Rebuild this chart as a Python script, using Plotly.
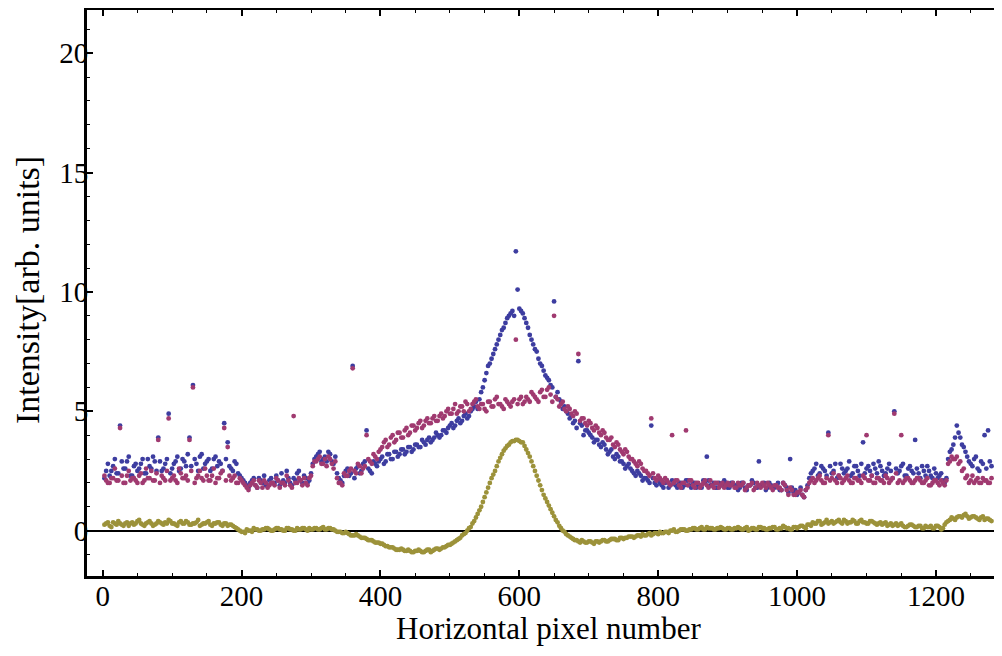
import plotly.graph_objects as go

# sample positions (horizontal pixel number)
x_pixel = list(range(5, 1281, 5))
x_pixel_half = [k * 5 + 2.5 for k in range(256)]

blue_vals = [
    2.5, 2.3, 2.7, 2.4, 4.4, 2.6, 2.9, 2.3, 2.7, 2.5, 2.8, 2.4, 3.0, 2.6, 2.9, 3.9, 2.5, 2.8, 4.9, 2.6,
    2.9, 2.5, 3.0, 2.7, 3.9, 6.1, 2.8, 3.1, 2.6, 2.9, 2.5, 3.0, 2.7, 2.8, 4.5, 3.7, 2.6, 2.9, 2.4, 2.2,
    2.0, 1.8, 2.1, 1.9, 2.2, 2.0, 1.9, 2.1, 2.0, 2.3, 1.9, 2.1, 2.5, 2.0, 2.2, 2.4, 2.1, 2.3, 2.0, 2.4,
    3.0, 3.2, 2.9, 3.1, 3.3, 2.9, 3.1, 2.2, 2.0, 2.5, 2.3, 6.9, 2.6, 2.4, 2.8, 4.2, 2.5, 2.9, 2.7, 3.0,
    2.8, 3.2, 3.0, 3.3, 3.1, 3.4, 3.2, 3.5, 3.3, 3.6, 3.5, 3.8, 3.6, 3.9, 3.8, 4.1, 3.9, 4.2, 4.1, 4.4,
    4.3, 4.6, 4.5, 4.8, 4.7, 5.0, 5.2, 5.1, 5.8, 6.3, 6.9, 7.2, 7.6, 8.0, 8.4, 8.7, 9.0, 9.2, 11.7, 9.3,
    9.1, 8.7, 8.2, 7.8, 7.5, 7.0, 6.7, 6.4, 6.1, 9.6, 5.8, 5.4, 5.2, 4.9, 4.8, 4.6, 7.1, 4.4, 4.2, 4.1,
    3.9, 3.8, 3.6, 3.7, 3.4, 3.3, 3.1, 3.2, 2.9, 2.8, 2.7, 2.6, 2.4, 2.5, 2.3, 2.2, 2.1, 4.4, 2.0, 2.1,
    1.9, 2.0, 1.8, 2.1, 1.9, 2.0, 1.8, 2.1, 1.9, 2.0, 1.8, 1.9, 2.1, 3.1, 1.9, 2.0, 1.8, 1.9, 2.1, 1.8,
    2.0, 1.9, 1.7, 2.0, 1.8, 1.9, 2.1, 1.8, 2.9, 1.9, 1.7, 2.0, 1.8, 1.9, 1.7, 2.0, 1.8, 3.0, 1.6, 1.5,
    1.8, 1.4, 1.9, 2.4, 2.6, 2.3, 2.7, 2.5, 4.1, 2.4, 2.8, 2.3, 2.6, 2.5, 2.9, 2.4, 2.7, 2.3, 3.7, 2.6,
    2.5, 2.8, 2.4, 2.7, 2.3, 2.6, 2.5, 5.0, 2.4, 2.7, 2.3, 2.6, 2.5, 3.8, 2.4, 2.7, 2.3, 2.5, 2.2, 2.4,
    2.3, 2.1, 2.2, 3.3, 3.6, 4.4, 3.9, 3.5, 3.1, 2.8, 3.0, 2.6, 2.9, 4.0, 4.2, 2.7,
]
blue_vals_half = [
    2.2, 2.8, 2.5, 3.0, 2.4, 2.9, 2.6, 3.1, 2.3, 2.8, 2.6, 3.0, 2.4, 2.7, 3.1, 2.5, 2.9, 2.6, 3.0, 2.4,
    2.8, 3.1, 2.6, 2.9, 3.2, 2.7, 3.0, 2.5, 3.2, 2.8, 3.0, 2.6, 3.1, 2.9, 2.5, 3.0, 2.7, 2.5, 2.8, 2.3,
    2.1, 1.9, 2.0, 2.2, 1.8, 2.1, 2.3, 1.9, 2.2, 2.0, 2.1, 2.4, 2.0, 2.2, 1.9, 2.1, 2.5, 2.0, 2.2, 2.1,
    2.8, 3.1, 3.3, 3.0, 2.9, 3.2, 2.8, 2.4, 2.1, 2.3, 2.6, 2.4, 2.2, 2.7, 2.5, 2.9, 2.6, 2.4, 2.8, 2.9,
    3.1, 2.9, 3.2, 3.0, 3.3, 3.2, 3.4, 3.3, 3.5, 3.4, 3.6, 3.5, 3.7, 3.8, 3.7, 3.9, 4.0, 4.0, 4.2, 4.3,
    4.5, 4.4, 4.7, 4.6, 4.9, 4.8, 5.1, 5.4, 5.5, 6.0, 6.6, 7.0, 7.4, 7.8, 8.2, 8.5, 8.9, 9.1, 9.0, 10.1,
    9.2, 8.9, 8.5, 8.0, 7.6, 7.2, 6.9, 6.5, 6.3, 6.0, 5.6, 5.5, 5.1, 5.0, 4.7, 4.5, 4.3, 4.5, 4.0, 4.2,
    4.0, 3.7, 3.8, 3.5, 3.6, 3.2, 3.4, 3.0, 3.1, 2.9, 2.6, 2.8, 2.5, 2.3, 2.4, 2.1, 2.2, 2.0, 2.2, 1.9,
    2.0, 1.8, 2.1, 1.9, 2.0, 1.8, 2.0, 1.9, 2.1, 1.8, 2.0, 1.9, 1.8, 2.0, 2.1, 1.9, 1.8, 2.0, 1.9, 2.0,
    1.8, 2.0, 1.9, 1.8, 2.0, 1.7, 1.9, 2.0, 1.8, 1.9, 2.0, 1.8, 1.9, 1.8, 2.0, 1.7, 1.9, 1.6, 1.8, 1.7,
    1.6, 1.5, 1.7, 2.2, 2.5, 2.8, 2.4, 2.6, 2.3, 2.7, 2.5, 2.2, 2.8, 2.4, 2.6, 2.3, 2.7, 2.5, 2.8, 2.4,
    2.7, 2.3, 2.6, 2.9, 2.5, 2.4, 2.8, 2.2, 2.6, 2.5, 2.8, 2.3, 2.7, 2.4, 2.6, 2.2, 2.5, 2.7, 2.3, 2.6,
    2.2, 2.4, 2.0, 3.0, 3.4, 3.9, 4.1, 3.6, 3.3, 2.9, 2.7, 3.1, 2.5, 2.8, 2.6, 2.9,
]

magenta_vals = [
    2.1, 2.0, 2.2, 2.1, 4.3, 2.0, 2.3, 2.1, 2.2, 2.0, 2.4, 2.1, 2.2, 2.5, 2.1, 3.8, 2.3, 2.1, 4.7, 2.2,
    2.1, 2.6, 2.2, 2.3, 3.8, 6.0, 2.2, 2.5, 2.1, 2.3, 2.1, 2.6, 2.2, 2.4, 4.3, 3.5, 2.1, 2.3, 2.0, 2.1,
    1.9, 1.7, 2.0, 1.9, 2.1, 1.8, 2.0, 1.9, 2.0, 2.2, 1.8, 2.0, 2.3, 1.9, 4.8, 2.0, 2.1, 2.2, 1.9, 2.3,
    2.9, 3.0, 2.8, 3.0, 3.1, 2.8, 2.9, 2.0, 1.9, 2.3, 2.5, 6.8, 2.4, 2.7, 2.6, 4.0, 2.9, 3.2, 3.0, 3.4,
    3.7, 3.5, 3.9, 3.7, 4.1, 3.9, 4.2, 4.0, 4.4, 4.2, 4.5, 4.3, 4.6, 4.5, 4.7, 4.6, 4.8, 4.7, 5.0, 4.9,
    5.1, 4.9, 5.2, 5.0, 5.3, 5.1, 5.4, 5.2, 5.3, 5.1, 5.4, 5.2, 5.5, 5.3, 5.2, 5.5, 5.3, 5.4, 8.0, 5.5,
    5.3, 5.6, 5.4, 5.7, 5.5, 5.8, 5.6, 5.9, 5.7, 9.0, 5.5, 5.3, 5.1, 5.2, 4.9, 5.0, 7.4, 4.7, 4.5, 4.6,
    4.3, 4.4, 4.1, 4.2, 3.9, 3.8, 3.6, 3.7, 3.4, 3.2, 3.3, 3.0, 2.9, 2.7, 2.8, 2.5, 2.4, 4.7, 2.2, 2.3,
    2.1, 2.2, 2.0, 4.0, 2.1, 1.9, 2.0, 4.2, 2.1, 1.9, 2.0, 1.8, 2.0, 1.9, 2.1, 1.8, 2.0, 1.9, 1.8, 2.0,
    1.9, 1.8, 2.0, 1.9, 1.7, 1.9, 2.0, 1.8, 1.9, 2.0, 1.8, 1.9, 1.7, 1.9, 1.8, 2.0, 1.7, 1.8, 1.5, 1.6,
    1.7, 1.4, 1.8, 2.1, 2.0, 2.2, 2.1, 2.0, 4.0, 2.2, 2.1, 2.3, 2.0, 2.2, 2.1, 2.0, 2.2, 2.1, 2.3, 4.0,
    2.1, 2.0, 2.2, 2.1, 2.0, 2.2, 2.1, 4.9, 2.0, 4.0, 2.1, 2.2, 2.0, 2.1, 2.2, 2.0, 2.1, 1.9, 2.0, 2.1,
    1.9, 2.0, 2.1, 2.9, 3.0, 3.1, 2.9, 2.6, 2.3, 2.1, 2.0, 2.2, 2.0, 2.1, 2.0, 2.2,
]
magenta_vals_half = [
    2.3, 2.0, 2.2, 2.6, 2.1, 2.3, 2.0, 2.5, 2.2, 2.1, 2.3, 2.0, 2.6, 2.2, 2.1, 2.4, 2.0, 2.2, 2.5, 2.1,
    2.3, 2.0, 2.4, 2.2, 2.1, 2.5, 2.0, 2.3, 2.2, 2.6, 2.1, 2.3, 2.0, 2.2, 2.5, 2.1, 2.3, 2.2, 2.0, 2.2,
    2.0, 1.8, 1.9, 2.1, 1.8, 2.0, 2.1, 1.8, 2.0, 1.9, 2.1, 2.0, 1.9, 2.1, 1.8, 2.0, 2.2, 1.9, 2.0, 2.2,
    2.7, 2.9, 3.1, 2.8, 2.7, 3.0, 2.6, 2.2, 2.0, 2.4, 2.3, 2.6, 2.5, 2.8, 2.4, 2.7, 3.0, 2.8, 3.1, 3.3,
    3.5, 3.8, 3.6, 4.0, 3.8, 4.1, 3.9, 4.3, 4.1, 4.4, 4.3, 4.6, 4.4, 4.7, 4.5, 4.8, 4.6, 4.9, 4.8, 5.1,
    4.9, 5.3, 5.0, 5.2, 5.4, 5.0, 5.3, 5.5, 5.1, 5.3, 5.0, 5.4, 5.2, 5.6, 5.3, 5.1, 5.4, 5.2, 5.5, 5.3,
    5.6, 5.4, 5.5, 5.8, 5.6, 5.4, 5.9, 5.6, 6.0, 5.4, 5.6, 5.2, 5.4, 5.0, 5.1, 4.8, 4.9, 4.6, 4.7, 4.4,
    4.5, 4.2, 4.3, 4.0, 4.1, 3.8, 3.9, 3.5, 3.6, 3.3, 3.4, 3.1, 3.0, 2.8, 2.9, 2.6, 2.5, 2.3, 2.4, 2.1,
    2.2, 2.0, 2.1, 1.9, 2.0, 2.1, 1.8, 2.0, 1.9, 2.1, 1.8, 2.0, 1.9, 2.1, 1.8, 1.9, 2.0, 1.8, 2.0, 1.9,
    1.9, 2.0, 1.8, 1.9, 2.0, 1.8, 1.9, 1.7, 2.0, 1.8, 1.9, 2.0, 1.8, 1.9, 1.8, 1.7, 1.9, 1.5, 1.7, 1.5,
    1.6, 1.5, 1.7, 2.0, 2.2, 2.1, 2.3, 2.0, 2.2, 2.1, 2.4, 2.0, 2.2, 2.1, 2.3, 2.0, 2.2, 2.1, 2.0, 2.2,
    2.1, 2.3, 2.0, 2.2, 2.1, 2.3, 2.0, 2.2, 2.4, 2.1, 2.0, 2.2, 2.1, 2.0, 2.2, 2.1, 2.0, 2.2, 1.9, 2.1,
    2.0, 2.1, 1.9, 2.8, 3.1, 3.0, 2.8, 2.5, 2.2, 2.0, 2.3, 2.1, 2.0, 2.2, 2.1, 2.0,
]

olive_vals = [
    0.3, 0.2, 0.35, 0.25, 0.3, 0.2, 0.35, 0.3, 0.25, 0.4, 0.3, 0.2, 0.35, 0.3, 0.25, 0.4, 0.3, 0.35, 0.45, 0.3,
    0.25, 0.35, 0.3, 0.4, 0.25, 0.3, 0.35, 0.2, 0.3, 0.35, 0.25, 0.3, 0.35, 0.25, 0.3, 0.2, 0.25, 0.15, 0.05, -0.05,
    -0.1, 0.0, -0.05, 0.05, 0.0, 0.05, 0.1, 0.05, 0.0, 0.1, 0.05, 0.0, 0.1, 0.05, 0.0, 0.1, 0.05, 0.1, 0.0, 0.05,
    0.1, 0.05, 0.1, 0.05, 0.1, 0.05, 0.0, -0.05, -0.1, -0.05, -0.15, -0.2, -0.15, -0.25, -0.3, -0.35, -0.4, -0.45, -0.5, -0.55,
    -0.6, -0.65, -0.7, -0.75, -0.8, -0.75, -0.85, -0.8, -0.9, -0.85, -0.8, -0.9, -0.85, -0.8, -0.85, -0.75, -0.8, -0.7, -0.65, -0.6,
    -0.5, -0.4, -0.3, -0.15, 0.0, 0.15, 0.4, 0.7, 1.0, 1.4, 1.8, 2.2, 2.5, 2.9, 3.2, 3.45, 3.6, 3.75, 3.8, 3.75,
    3.7, 3.4, 3.1, 2.7, 2.3, 1.9, 1.5, 1.2, 0.9, 0.6, 0.35, 0.1, -0.05, -0.2, -0.3, -0.4, -0.45, -0.4, -0.5, -0.45,
    -0.5, -0.45, -0.5, -0.4, -0.45, -0.4, -0.35, -0.4, -0.3, -0.35, -0.3, -0.25, -0.3, -0.2, -0.25, -0.2, -0.15, -0.2, -0.1, -0.15,
    -0.1, -0.05, -0.1, 0.0, -0.05, 0.0, 0.05, 0.0, 0.05, 0.1, 0.05, 0.1, 0.05, 0.15, 0.1, 0.05, 0.1, 0.15, 0.05, 0.1,
    0.05, 0.1, 0.15, 0.05, 0.1, 0.0, 0.1, 0.05, 0.15, 0.1, 0.05, 0.1, 0.15, 0.05, 0.1, 0.2, 0.1, 0.05, 0.15, 0.1,
    0.2, 0.15, 0.25, 0.2, 0.3, 0.4, 0.25, 0.35, 0.3, 0.4, 0.35, 0.45, 0.3, 0.4, 0.35, 0.45, 0.3, 0.4, 0.35, 0.3,
    0.4, 0.35, 0.25, 0.35, 0.3, 0.2, 0.3, 0.25, 0.2, 0.3, 0.15, 0.2, 0.25, 0.15, 0.2, 0.1, 0.2, 0.15, 0.1, 0.2,
    0.15, 0.1, 0.35, 0.45, 0.5, 0.55, 0.6, 0.65, 0.6, 0.55, 0.6, 0.5, 0.55, 0.45, 0.5, 0.4,
]
olive_vals_half = [
    0.25, 0.35, 0.15, 0.3, 0.4, 0.25, 0.3, 0.2, 0.35, 0.3, 0.45, 0.25, 0.3, 0.4, 0.2, 0.3, 0.35, 0.25, 0.3, 0.4,
    0.3, 0.2, 0.4, 0.3, 0.35, 0.25, 0.3, 0.45, 0.25, 0.3, 0.4, 0.2, 0.3, 0.35, 0.2, 0.3, 0.25, 0.2, 0.1, 0.0,
    -0.05, 0.05, 0.0, 0.1, 0.05, 0.0, 0.05, 0.1, 0.0, 0.05, 0.1, 0.05, 0.0, 0.1, 0.05, 0.0, 0.05, 0.1, 0.05, 0.1,
    0.05, 0.1, 0.05, 0.15, 0.05, 0.1, 0.05, -0.05, -0.05, -0.1, -0.1, -0.2, -0.2, -0.2, -0.3, -0.3, -0.4, -0.4, -0.5, -0.5,
    -0.55, -0.65, -0.7, -0.7, -0.8, -0.8, -0.8, -0.85, -0.85, -0.9, -0.85, -0.85, -0.9, -0.8, -0.9, -0.8, -0.75, -0.75, -0.7, -0.6,
    -0.55, -0.45, -0.35, -0.2, -0.1, 0.1, 0.3, 0.55, 0.85, 1.2, 1.6, 2.0, 2.35, 2.7, 3.05, 3.35, 3.55, 3.7, 3.75, 3.8,
    3.7, 3.55, 3.25, 2.9, 2.5, 2.1, 1.7, 1.35, 1.05, 0.75, 0.45, 0.2, 0.0, -0.15, -0.25, -0.35, -0.4, -0.5, -0.45, -0.5,
    -0.45, -0.55, -0.45, -0.45, -0.4, -0.45, -0.35, -0.35, -0.4, -0.3, -0.3, -0.25, -0.25, -0.25, -0.2, -0.15, -0.2, -0.1, -0.15, -0.1,
    -0.05, -0.1, -0.05, 0.0, 0.05, -0.05, 0.05, 0.05, 0.0, 0.05, 0.1, 0.05, 0.15, 0.05, 0.1, 0.1, 0.05, 0.1, 0.1, 0.05,
    0.1, 0.05, 0.1, 0.1, 0.05, 0.15, 0.05, 0.1, 0.05, 0.15, 0.1, 0.05, 0.1, 0.15, 0.05, 0.1, 0.15, 0.1, 0.05, 0.15,
    0.15, 0.2, 0.1, 0.25, 0.35, 0.3, 0.4, 0.3, 0.45, 0.35, 0.3, 0.4, 0.35, 0.45, 0.3, 0.35, 0.4, 0.3, 0.45, 0.35,
    0.3, 0.4, 0.3, 0.3, 0.25, 0.35, 0.25, 0.2, 0.3, 0.25, 0.2, 0.15, 0.25, 0.2, 0.15, 0.2, 0.1, 0.15, 0.2, 0.1,
    0.2, 0.05, 0.25, 0.4, 0.55, 0.45, 0.6, 0.55, 0.7, 0.5, 0.6, 0.55, 0.45, 0.6, 0.5, 0.45,
]

x_tick_vals = [0, 200, 400, 600, 800, 1000, 1200]
y_tick_vals = [0, 5, 10, 15, 20]
x_title = "Horizontal pixel number"
y_title = "Intensity[arb. units]"

series = [
    ("blue", blue_vals, blue_vals_half, "rgb(61,61,160)"),
    ("magenta", magenta_vals, magenta_vals_half, "rgb(160,58,112)"),
    ("olive", olive_vals, olive_vals_half, "rgb(156,146,58)"),
]

fig = go.Figure()
for name, vals, vals_half, col in series:
    fig.add_trace(go.Scatter(
        x=x_pixel + x_pixel_half, y=vals + vals_half, mode="markers", name=name,
        marker=dict(color=col, size=4.8, line=dict(width=0)),
        showlegend=False,
    ))

font_family = "Liberation Serif, Times New Roman, serif"
fig.update_layout(
    width=1002, height=656,
    margin=dict(l=79, r=0, t=2, b=88),
    paper_bgcolor="white", plot_bgcolor="white",
    font=dict(family=font_family, size=29, color="black"),
)
fig.update_xaxes(
    range=[-22.6, 1306.6], automargin=False,
    tickvals=x_tick_vals, ticktext=[str(v) for v in x_tick_vals],
    ticks="inside", ticklen=6, tickwidth=1.5, tickcolor="black",
    minor=dict(dtick=50, tick0=0, ticks="inside", ticklen=3, tickwidth=1, tickcolor="black", showgrid=False),
    showline=True, linewidth=3, linecolor="black", mirror="ticks",
    showgrid=False, zeroline=False,
    tickfont=dict(size=29), ticklabelstandoff=-8,
)
fig.update_yaxes(
    range=[-1.90, 21.81], automargin=False,
    tickvals=y_tick_vals, ticktext=[str(v) for v in y_tick_vals],
    ticks="inside", ticklen=6, tickwidth=1.5, tickcolor="black",
    minor=dict(dtick=1, tick0=0, ticks="inside", ticklen=3, tickwidth=1, tickcolor="black", showgrid=False),
    showline=True, linewidth=3, linecolor="black", mirror=False,
    showgrid=False, zeroline=True, zerolinecolor="black", zerolinewidth=2,
    tickfont=dict(size=29), ticklabelstandoff=-10,
)
fig.add_annotation(
    text=x_title, xref="paper", yref="paper", x=0.5005, y=-0.0919,
    xanchor="center", yanchor="middle", showarrow=False,
    font=dict(family=font_family, size=31, color="black"),
)
fig.add_annotation(
    text=y_title, xref="paper", yref="paper", x=-0.065, y=0.5053,
    xanchor="center", yanchor="middle", textangle=-90, showarrow=False,
    font=dict(family=font_family, size=34, color="black"),
)

fig.write_html("out.html")
